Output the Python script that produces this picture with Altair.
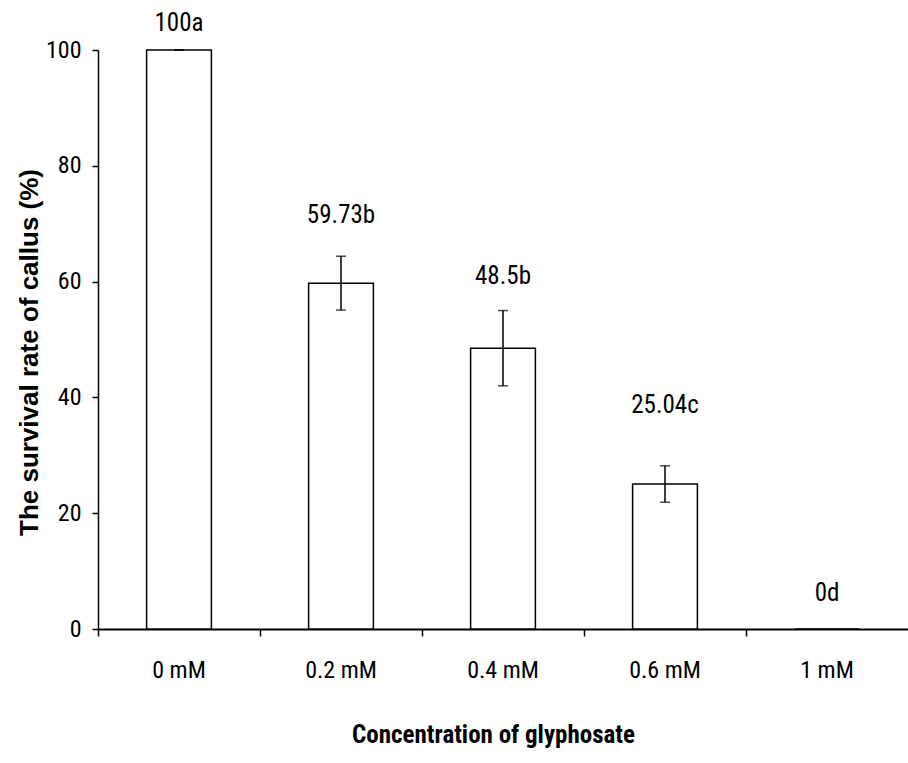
import altair as alt
import pandas as pd

# Callus survival under increasing glyphosate concentration
concentrations = ["0 mM", "0.2 mM", "0.4 mM", "0.6 mM", "1 mM"]
survival = [100, 59.73, 48.5, 25.04, 0]
std_err = [0, 4.65, 6.5, 3.15, 0]
letters = ["a", "b", "b", "c", "d"]
# vertical placement of the significance labels, in % units
label_y = [104.6, 71.5, 61.0, 38.7, 6.2]

df = pd.DataFrame({
    "conc": concentrations,
    "rate": survival,
    "err": std_err,
    "label": [f"{v:g}{l}" for v, l in zip(survival, letters)],
    "label_y": label_y,
})
df["lo"] = df["rate"] - df["err"]
df["hi"] = df["rate"] + df["err"]
err_df = df[df["rate"] > 0]

NARROW = "'Liberation Sans Narrow', 'Roboto Condensed', 'DejaVu Sans Condensed', 'Liberation Sans'"

x_enc = alt.X(
    "conc:N",
    sort=concentrations,
    scale=alt.Scale(paddingInner=0, paddingOuter=0),
    axis=alt.Axis(
        title="Concentration of glyphosate",
        labelAngle=0,
        bandPosition=0,
        tickSize=7,
        tickWidth=1.5,
        domainWidth=2,
        labelFont=NARROW,
        labelFontSize=24,
        labelBaseline="alphabetic",
        labelPadding=41,
        titleFont=NARROW,
        titleFontSize=25,
        titleFontWeight="bold",
        titleX=395,
        titleY=113,
        titleAlign="center",
        titleBaseline="alphabetic",
    ),
)

y_scale = alt.Scale(domain=[0, 100], nice=False)

bars = alt.Chart(df).mark_bar(
    width=alt.RelativeBandSize(0.4), fill="white", stroke="black", strokeWidth=1.5
).encode(
    x=x_enc,
    y=alt.Y(
        "rate:Q",
        scale=y_scale,
        axis=alt.Axis(
            title="The survival rate of callus (%)",
            values=[0, 20, 40, 60, 80, 100],
            grid=False,
            tickSize=6,
            tickWidth=1.5,
            domainWidth=1.5,
            labelFont=NARROW,
            labelFontSize=24,
            labelPadding=11,
            titleFont="Liberation Sans",
            titleFontSize=26,
            titleFontWeight="bold",
            titleX=-61,
            titleY=302,
            titleAngle=-90,
            titleAlign="center",
            titleBaseline="alphabetic",
        ),
    ),
)

whisker = alt.Chart(err_df).mark_rule(color="black", strokeWidth=1.5).encode(
    x=alt.X("conc:N", sort=concentrations),
    y=alt.Y("lo:Q", scale=y_scale),
    y2="hi:Q",
)

cap_lo = alt.Chart(err_df).mark_tick(color="black", size=10, thickness=1.5).encode(
    x=alt.X("conc:N", sort=concentrations),
    y=alt.Y("lo:Q", scale=y_scale),
)

cap_hi = alt.Chart(err_df).mark_tick(color="black", size=10, thickness=1.5).encode(
    x=alt.X("conc:N", sort=concentrations),
    y=alt.Y("hi:Q", scale=y_scale),
)

labels = alt.Chart(df).mark_text(
    font=NARROW, fontSize=25, color="black", baseline="middle", align="center"
).encode(
    x=alt.X("conc:N", sort=concentrations),
    y=alt.Y("label_y:Q", scale=y_scale),
    text="label:N",
)

chart = (
    alt.layer(bars, whisker, cap_lo, cap_hi, labels)
    .properties(
        width=810,
        height=579,
        autosize=alt.AutoSizeParams(type="none"),
        padding={"left": 98, "top": 50, "right": 0, "bottom": 134},
        background="white",
    )
    .configure_view(stroke=None)
    .configure_axis(
        domainColor="black",
        tickColor="black",
        labelColor="black",
        titleColor="black",
    )
)

chart.save("out.html", embed_options={"renderer": "svg", "actions": False})
